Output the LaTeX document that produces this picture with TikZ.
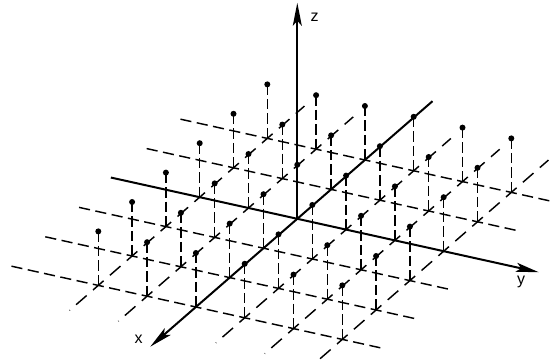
\documentclass[tikz,border=0pt]{standalone}
\usepackage{fontspec}
\setsansfont{Liberation Sans}
\usetikzlibrary{arrows.meta}
\tikzset{
  axis/.style={line width=2pt, -{Stealth[length=23pt,width=9pt,inset=5pt]}},
  gridline/.style={line width=1.45pt},
  yseg/.style={gridline, dash pattern=on 11.17pt off 5.5pt, dash phase=5.58pt},
  xseg/.style={gridline, dash pattern=on 14pt off 8.4pt, dash phase=7pt},
  pin/.style={line width=1.3pt, dash pattern=on 10.5pt off 4pt},
  pinhead/.style={circle, fill, inner sep=0pt, minimum size=6pt},
  axislabel/.style={font=\sffamily\fontsize{16}{16}\selectfont, inner sep=0pt}
}
\begin{document}
\begin{tikzpicture}
\useasboundingbox (0pt,0pt) rectangle (552pt,363pt);
\begin{scope}[shift={(297.3pt,144.2pt)}, x={(-33.8pt,-29.4pt)}, y={(48.8pt,-10.8pt)}, z={(0pt,54pt)}]
  % lattice coordinates
  \foreach \i in {-2,...,3}{
    \foreach \j in {-2,...,3}{
      \coordinate (b\i_\j) at (\i,\j,0);
      \coordinate (t\i_\j) at (\i,\j,1);
    }
    \coordinate (yl\i) at (\i,-3.85,0);
    \coordinate (yr\i) at (\i,3.85,0);
  }
  \foreach \j in {-2,...,3}{
    \coordinate (xb\j) at (-3.1,\j,0);
    \coordinate (xf\j) at (3.85,\j,0);
  }
  % grid lines parallel to y
  \foreach \i in {-2,-1,1,2,3}{
    \draw[yseg] (b\i_-2) -- (yl\i);
    \draw[yseg] (b\i_3) -- (yr\i);
    \foreach \j [evaluate=\j as \jj using int(\j+1)] in {-2,...,2}{
      \draw[yseg] (b\i_\j) -- (b\i_\jj);
    }
  }
  % grid lines parallel to x
  \foreach \j in {-2,-1,1,2,3}{
    \draw[xseg] (b-2_\j) -- (xb\j);
    \draw[xseg] (b3_\j) -- (xf\j);
    \foreach \i [evaluate=\i as \ii using int(\i+1)] in {-2,...,2}{
      \draw[xseg] (b\i_\j) -- (b\ii_\j);
    }
  }
  % pins
  \foreach \i in {-2,...,3}{
    \foreach \j in {-2,...,3}{
      \draw[pin] (t\i_\j) -- (b\i_\j);
    }
  }
  % axes
  \coordinate (yaL) at (0,-3.82,0);
  \coordinate (yaR) at (0,4.95,0);
  \coordinate (xaB) at (-4,0,0);
  \coordinate (xaF) at (4.35,0,0);
  \coordinate (zaT) at (0,0,4.0);
  \draw[axis] (yaL) -- (yaR);
  \draw[axis] (xaB) -- (xaF);
  \draw[axis] (b0_0) -- (zaT);
  % pin heads
  \foreach \i in {-2,...,3}{
    \foreach \j in {-2,...,3}{
      \node[pinhead] (h\i_\j) at (t\i_\j) {};
    }
  }
\end{scope}
\node[axislabel] (lz) at (314.5pt,346pt) {z};
\node[axislabel] (ly) at (521pt,81pt) {y};
\node[axislabel] (lx) at (138.5pt,23.5pt) {x};
\end{tikzpicture}
\end{document}
